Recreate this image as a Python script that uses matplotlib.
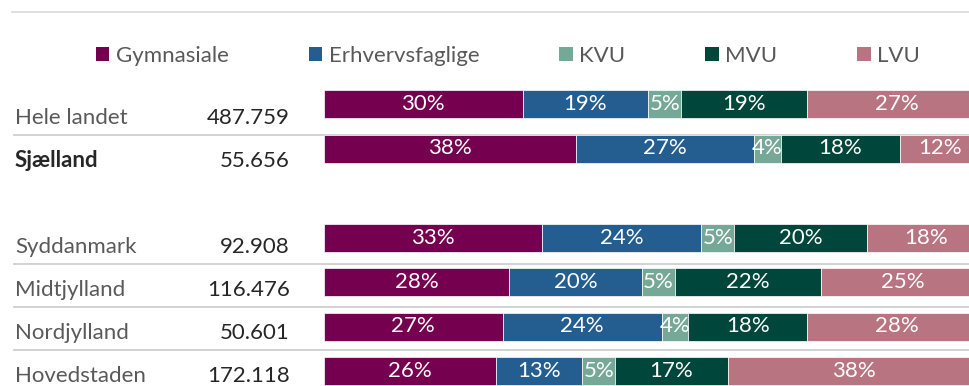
import matplotlib.pyplot as plt
from matplotlib.patches import Patch

plt.rcParams['font.family'] = ['Lato', 'DejaVu Sans']

regions = ["Hele landet", "Sjælland", "Syddanmark", "Midtjylland", "Nordjylland", "Hovedstaden"]
totals = [487759, 55656, 92908, 116476, 50601, 172118]
categories = ["Gymnasiale", "Erhvervsfaglige", "KVU", "MVU", "LVU"]
gymnasiale = [30, 38, 33, 28, 27, 26]
erhvervsfaglige = [19, 27, 24, 20, 24, 13]
kvu = [5, 4, 5, 5, 4, 5]
mvu = [19, 18, 20, 22, 18, 17]
lvu = [27, 12, 18, 25, 28, 38]

colors = ["#750050", "#245E90", "#76A898", "#00463A", "#B97482"]
series = [gymnasiale, erhvervsfaglige, kvu, mvu, lvu]

# row slots (slot 2 is left empty as a gap)
slots = [0, 1, 3, 4, 5, 6]

W, H = 969, 386
fig = plt.figure(figsize=(W / 100, H / 100), dpi=100)

# background axes in pixel units for the table text and rules
ax = fig.add_axes([0, 0, 1, 1])
ax.set_xlim(0, W)
ax.set_ylim(H, 0)
ax.axis("off")

# bar axes: 100 % spans 662 px starting at x=324, runs past the right edge
bax = fig.add_axes([324 / W, 0, 662 / W, 1])
bax.set_xlim(0, 100)
row_h = 44.5
bax.set_ylim((H - 104) / row_h, -104 / row_h)
bax.axis("off")

fs = 16
ax.plot([12, W], [12, 12], color="#d9d9d9", lw=1.2)

for name, total, s in zip(regions, totals, slots):
    base = 124 + 43 * s
    bold = name == "Sjælland"
    ax.text(15, base, name, va="baseline", ha="left", fontsize=fs,
            color="#262626" if bold else "#595959",
            fontweight="bold" if bold else "normal")
    ax.text(290, base, f"{total:,}".replace(",", "."), va="baseline", ha="right",
            fontsize=fs, color="#262626")

# separators under the rows (none before the gap)
for s in [0, 3, 4, 5]:
    y = 135 + 43 * s
    ax.plot([14, W], [y, y], color="#cfcfcf", lw=1.3, zorder=0)

left = [0] * len(regions)
for cat, vals, col in zip(categories, series, colors):
    bars = bax.barh(slots, vals, left=left, height=28 / row_h, color=col,
                    edgecolor="white", linewidth=0.5, label=cat)
    bax.bar_label(bars, labels=[f"{v}%" for v in vals], label_type="center",
                  color="white", fontsize=fs)
    left = [l + v for l, v in zip(left, vals)]

handles = [Patch(facecolor=c, edgecolor="none") for c in colors]
fig.legend(handles, categories, loc="center", bbox_to_anchor=(508 / W, 1 - 56 / H),
           ncol=5, frameon=False, fontsize=fs, labelcolor="#595959",
           handlelength=0.6, handleheight=0.6, handletextpad=0.3,
           columnspacing=3.6)

fig.savefig("out.png", dpi=100)
